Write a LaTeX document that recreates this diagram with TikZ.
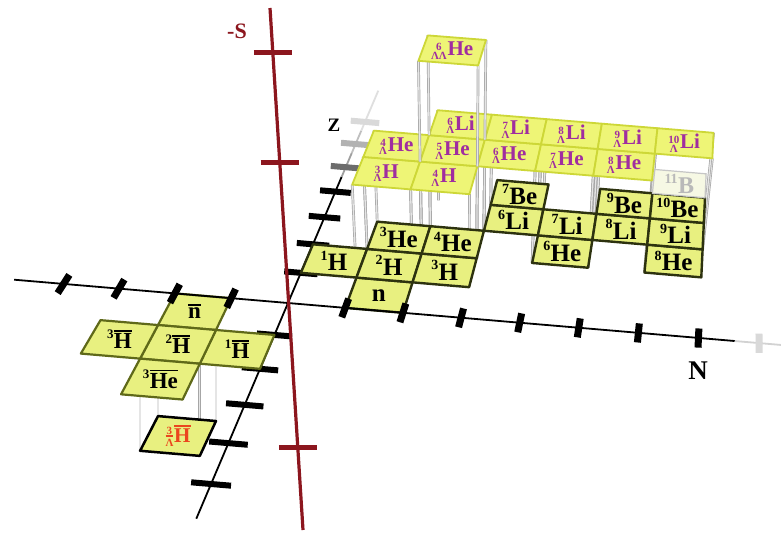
\documentclass[tikz,border=0pt]{standalone}
\usepackage{fontspec}
\setmainfont{Liberation Serif}
\usetikzlibrary{calc}

\definecolor{cellfill}{RGB}{232,240,128}
\definecolor{hypfill}{RGB}{238,245,118}
\definecolor{hypedge}{RGB}{205,215,55}
\definecolor{nucedge}{RGB}{45,50,15}
\definecolor{antiedge}{RGB}{95,105,25}
\definecolor{hyptext}{RGB}{160,45,160}
\definecolor{axisred}{RGB}{140,22,30}
\definecolor{antired}{RGB}{235,70,30}
\definecolor{paleB}{RGB}{246,248,228}

% projection of grid point (N,Z) at level height #4 (px)
\newcommand\defpt[4]{%
  \pgfmathsetmacro\myN{#2}%
  \pgfmathsetmacro\myZ{#3}%
  \pgfmathsetmacro\myU{(\myN)/(1-0.004*(\myN))}%
  \pgfmathsetmacro\myT{0.0285*(\myZ)/(1+0.0285*(\myZ))}%
  \pgfmathsetmacro\myAx{288+57*\myU}%
  \pgfmathsetmacro\myAy{303+4.85*\myU}%
  \pgfmathsetmacro\myGx{\myAx+\myT*(751-\myAx)}%
  \pgfmathsetmacro\myGy{\myAy+\myT*(-786-\myAy)}%
  \pgfmathsetmacro\myH{(#4)*(1-0.4*\myT)}%
  \pgfmathsetmacro\myX{460+(\myGx-460)*(1+0.00045*max(\myH,0))}%
  \pgfmathsetmacro\myY{\myGy-\myH}%
  \coordinate (#1) at (\myX,\myY);%
}
% cell: name, N0, Z0, level, polygon style, label style, text
\newcommand\cell[7]{%
  \defpt{#1-a}{#2}{#3}{#4}%
  \defpt{#1-b}{#2+1}{#3}{#4}%
  \defpt{#1-c}{#2+1}{#3+1}{#4}%
  \defpt{#1-d}{#2}{#3+1}{#4}%
  \draw[#5] (#1-a) -- (#1-b) -- (#1-c) -- (#1-d) -- cycle;%
  \node[#6] (#1) at ($(#1-a)!0.5!(#1-c)$) {#7};%
}
% vertical lines from the four corners of a cell between two levels
\newcommand\pillars[5]{%
  \foreach \pdn/\pdz/\pk in {0/0/a,1/0/b,1/1/c,0/1/d}{%
    \defpt{#1-\pk-u}{#2+\pdn}{#3+\pdz}{#4}%
    \defpt{#1-\pk-l}{#2+\pdn}{#3+\pdz}{#5}%
    \draw[pillar] (#1-\pk-u) -- (#1-\pk-l);%
  }%
}
\newcommand\nuc[2]{\raisebox{0.42em}{\fontsize{14}{14}\selectfont #1}\kern0.3pt#2}
\newcommand\stk[2]{\begingroup\fontsize{11}{11}\selectfont\vbox{\baselineskip=-1pt\lineskip=1.3pt\halign{\hfil##\hfil\cr#1\cr#2\cr}}\endgroup}
\newcommand\hyp[2]{\raisebox{-3.5pt}{\stk{#1}{Λ}}\kern0.8pt#2}
\newcommand\abar[1]{\setbox0\hbox{#1}\rlap{\rule[\dimexpr\ht0+1.8pt\relax]{\wd0}{1.8pt}}\box0}
\newcommand\anuc[2]{\raisebox{0.42em}{\fontsize{13}{13}\selectfont #1}\kern0.3pt\abar{#2}}

\begin{document}
\begin{tikzpicture}[x=1pt,y=-1pt,
  pillar/.style={draw=gray!70,line width=0.7pt,double=gray!20,double distance=1.3pt},
  nuccell/.style={fill=cellfill,draw=nucedge,line width=2.4pt,line join=round},
  anticell/.style={fill=cellfill,draw=antiedge,line width=2.2pt,line join=round},
  ahypcell/.style={fill=cellfill,draw=black,line width=2.5pt,line join=round},
  hypcell/.style={fill=hypfill,draw=hypedge,line width=1.8pt,line join=round},
  bcell/.style={fill=paleB,draw=gray!45,line width=1.2pt},
  nuclab/.style={font=\fontsize{25}{25}\selectfont\bfseries,inner sep=0pt},
  antilab/.style={font=\fontsize{23}{23}\selectfont\bfseries,inner sep=0pt},
  hyplab/.style={font=\fontsize{21}{21}\selectfont\bfseries,text=hyptext,inner sep=0pt},
  blab/.style={font=\fontsize{24}{24}\selectfont\bfseries,text=gray!55,inner sep=0pt},
  ahyplab/.style={font=\fontsize{21}{21}\selectfont\bfseries,text=antired,inner sep=0pt},
  axlab/.style={font=\bfseries,inner sep=0pt},
  ztick/.style={line width=6pt},
  ntick/.style={line width=7pt},
  redtick/.style={draw=axisred,line width=5pt}]
\fill[white] (0,0) rectangle (781,536);
\useasboundingbox (0,0) rectangle (781,536);

% ---- vertical lines between levels
\pillars{p3H}{1}{1}{94}{0}
\pillars{p4H}{2}{1}{94}{0}
\pillars{p4He}{1}{2}{94}{0}
\pillars{p5He}{2}{2}{94}{0}
\pillars{p6He}{3}{2}{94}{0}
\pillars{p7He}{4}{2}{94}{0}
\pillars{p8He}{5}{2}{94}{0}
\pillars{p6Li}{2}{3}{94}{0}
\pillars{p7Li}{3}{3}{94}{0}
\pillars{p8Li}{4}{3}{94}{0}
\pillars{p9Li}{5}{3}{94}{0}
\pillars{p10Li}{6}{3}{94}{0}
\pillars{pa3H}{-2}{-2}{0}{-90}

% ---- Z axis
\defpt{z0}{0}{-5.8}{0}
\defpt{z1}{0}{4.6}{0}
\defpt{z2}{0}{5.6}{0}
\defpt{z3}{0}{6.6}{0}
\defpt{z4}{0}{8.5}{0}
\draw[line width=1.8pt,black] (z0) -- (z1);
\draw[line width=1.8pt,gray!75] (z1) -- (z2);
\draw[line width=1.8pt,gray!50] (z2) -- (z3);
\draw[line width=1.8pt,gray!25] (z3) -- (z4);
\foreach \zz in {-5,-4,-3,-2,-1,1,2,3,4}{%
  \defpt{zt\zz l}{-0.3}{\zz}{0}\defpt{zt\zz r}{0.3}{\zz}{0}%
  \draw[ztick,black] (zt\zz l) -- (zt\zz r);}
\foreach \zz/\zc in {5/gray!85!black,6/gray!60,7/gray!30}{%
  \defpt{zt\zz l}{-0.3}{\zz}{0}\defpt{zt\zz r}{0.3}{\zz}{0}%
  \draw[ztick,\zc] (zt\zz l) -- (zt\zz r);}

% ---- anti-hypertriton (level -1)
\cell{a3LH}{-2}{-2}{-90}{ahypcell}{ahyplab}{\raisebox{-3.5pt}{\stk{3}{\abar{Λ}}}\kern0.8pt\abar{H}}

% ---- antimatter cells (level 0)
\cell{anbar}{-2}{-1}{0}{anticell}{antilab}{\abar{n}}
\cell{a1H}{-1}{-2}{0}{anticell}{antilab}{\anuc{1}{H}}
\cell{a2H}{-2}{-2}{0}{anticell}{antilab}{\anuc{2}{H}}
\cell{a3H}{-3}{-2}{0}{anticell}{antilab}{\anuc{3}{H}}
\cell{a3He}{-2}{-3}{0}{anticell}{antilab}{\anuc{3}{He}}

% ---- nuclei (level 0)
\cell{n}{1}{0}{0}{nuccell}{nuclab}{n}
\cell{H1}{0}{1}{0}{nuccell}{nuclab}{\nuc{1}{H}}
\cell{H2}{1}{1}{0}{nuccell}{nuclab}{\nuc{2}{H}}
\cell{H3}{2}{1}{0}{nuccell}{nuclab}{\nuc{3}{H}}
\cell{He3}{1}{2}{0}{nuccell}{nuclab}{\nuc{3}{He}}
\cell{He4}{2}{2}{0}{nuccell}{nuclab}{\nuc{4}{He}}
\cell{He6}{4}{2}{0}{nuccell}{nuclab}{\nuc{6}{He}}
\cell{He8}{6}{2}{0}{nuccell}{nuclab}{\nuc{8}{He}}
\cell{Li6}{3}{3}{0}{nuccell}{nuclab}{\nuc{6}{Li}}
\cell{Li7}{4}{3}{0}{nuccell}{nuclab}{\nuc{7}{Li}}
\cell{Li8}{5}{3}{0}{nuccell}{nuclab}{\nuc{8}{Li}}
\cell{Li9}{6}{3}{0}{nuccell}{nuclab}{\nuc{9}{Li}}
\cell{Be7}{3}{4}{0}{nuccell}{nuclab}{\nuc{7}{Be}}
\cell{Be9}{5}{4}{0}{nuccell}{nuclab}{\nuc{9}{Be}}
\cell{Be10}{6}{4}{0}{nuccell}{nuclab}{\nuc{10}{Be}}
\cell{B11}{6}{5}{0}{bcell}{blab}{\nuc{11}{B}}

% ---- N axis
\defpt{nA}{-4.9}{0}{0}
\defpt{nB}{7.6}{0}{0}
\defpt{nC}{8.5}{0}{0}
\draw[line width=1.8pt,black] (nA) -- (nB);
\draw[line width=1.8pt,gray!35] (nB) -- (nC);
\foreach \nn in {-4,-3,-2,-1,1,2,3,4,5,6,7}{%
  \defpt{nt\nn d}{\nn}{-0.3}{0}\defpt{nt\nn u}{\nn}{0.3}{0}%
  \draw[ntick,black] (nt\nn d) -- (nt\nn u);}
\defpt{nt8d}{8}{-0.3}{0}\defpt{nt8u}{8}{0.3}{0}
\draw[ntick,gray!30] (nt8d) -- (nt8u);

% ---- hypernuclei (level 1)
\cell{L3H}{1}{1}{94}{hypcell}{hyplab}{\hyp{3}{H}}
\cell{L4H}{2}{1}{94}{hypcell}{hyplab}{\hyp{4}{H}}
\cell{L4He}{1}{2}{94}{hypcell}{hyplab}{\hyp{4}{He}}
\cell{L5He}{2}{2}{94}{hypcell}{hyplab}{\hyp{5}{He}}
\cell{L6He}{3}{2}{94}{hypcell}{hyplab}{\hyp{6}{He}}
\cell{L7He}{4}{2}{94}{hypcell}{hyplab}{\hyp{7}{He}}
\cell{L8He}{5}{2}{94}{hypcell}{hyplab}{\hyp{8}{He}}
\cell{L6Li}{2}{3}{94}{hypcell}{hyplab}{\hyp{6}{Li}}
\cell{L7Li}{3}{3}{94}{hypcell}{hyplab}{\hyp{7}{Li}}
\cell{L8Li}{4}{3}{94}{hypcell}{hyplab}{\hyp{8}{Li}}
\cell{L9Li}{5}{3}{94}{hypcell}{hyplab}{\hyp{9}{Li}}
\cell{L10Li}{6}{3}{94}{hypcell}{hyplab}{\hyp{10}{Li}}

% ---- double hypernucleus (level 2)
\pillars{pLL}{2}{2}{197}{94}
\cell{LL6He}{2}{2}{197}{hypcell}{hyplab}{\raisebox{-3.5pt}{\stk{6}{ΛΛ}}\kern0.8pt He}

% ---- -S axis
\coordinate (s-top) at (270,8);
\coordinate (s-bot) at (303,530);
\draw[draw=axisred,line width=3.2pt] (s-top) -- (s-bot);
\foreach \yy in {52,162,447}{%
  \pgfmathsetmacro\sx{270+33*(\yy-8)/522}%
  \coordinate (st\yy l) at (\sx-19,\yy);
  \coordinate (st\yy r) at (\sx+19,\yy);
  \draw[redtick] (st\yy l) -- (st\yy r);}

% ---- axis labels
\node[axlab,text=axisred,font=\fontsize{22}{22}\selectfont\bfseries] (lblS) at (237,31) {-S};
\node[axlab,font=\fontsize{19}{19}\selectfont\bfseries] (lblZ) at (334,125) {Z};
\node[axlab,font=\fontsize{27}{27}\selectfont\bfseries] (lblN) at (698,371) {N};
\end{tikzpicture}
\end{document}
